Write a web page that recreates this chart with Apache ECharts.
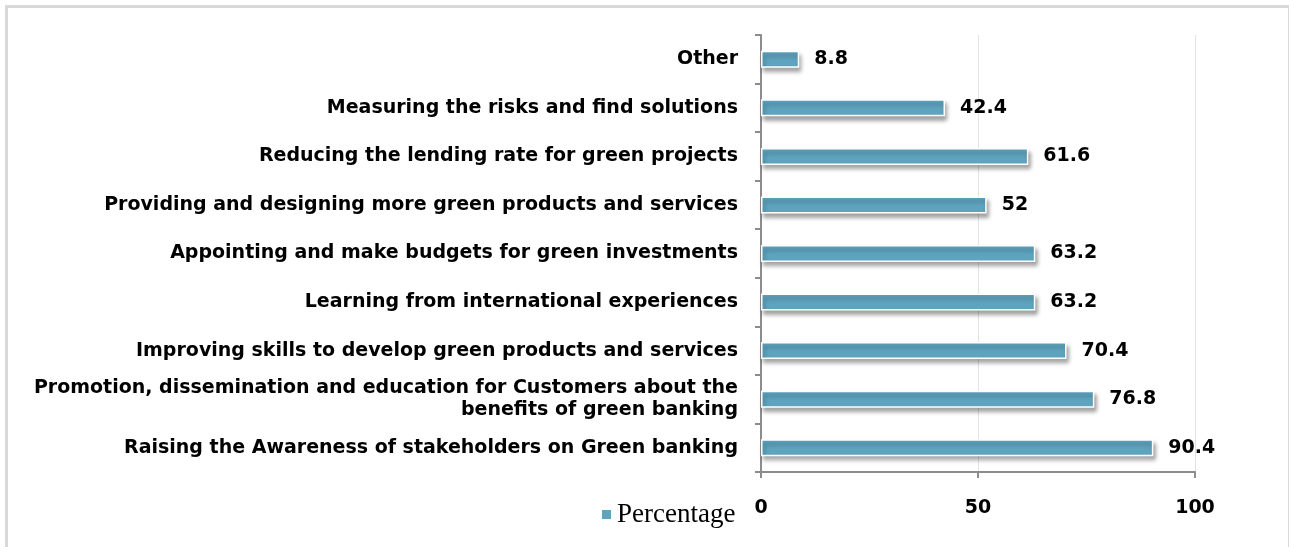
<!DOCTYPE html>
<html>
<head>
<meta charset="utf-8">
<script src="https://cdn.jsdelivr.net/npm/echarts@6/dist/echarts.min.js"></script>
<style>html,body{margin:0;padding:0;background:#fff}#c{width:1289px;height:547px}</style>
</head>
<body>
<div id="c"></div>
<script>
const categories = [
  'Raising the Awareness of stakeholders on Green banking',
  'Promotion, dissemination and education for Customers about the\nbenefits of green banking',
  'Improving skills to develop green products and services',
  'Learning from international experiences',
  'Appointing and make budgets for green investments',
  'Providing and designing more green products and services',
  'Reducing the lending rate for green projects',
  'Measuring the risks and find solutions',
  'Other'
];
const percentage = [90.4, 76.8, 70.4, 63.2, 63.2, 52, 61.6, 42.4, 8.8];
const xTicks = [0, 50, 100];

const chart = echarts.init(document.getElementById('c'), null, {renderer: 'canvas'});
chart.setOption({
  animation: false,
  backgroundColor: '#fff',
  graphic: [{
    type: 'rect', left: 4, top: 4,
    shape: {width: 1283, height: 600},
    style: {fill: 'none', stroke: '#d9d9d9', lineWidth: 3}
  }],
  legend: {
    left: 595, top: 496,
    itemWidth: 11, itemHeight: 11, itemGap: 8,
    icon: 'rect',
    textStyle: {fontFamily: 'Liberation Serif', fontSize: 27, color: '#000'},
    data: ['Percentage']
  },
  grid: {left: 761, right: 94, top: 35, bottom: 75, containLabel: false},
  xAxis: {
    type: 'value', min: 0, max: 100, interval: 50,
    axisLine: {show: true, lineStyle: {color: '#8c8c8c', width: 2}},
    axisTick: {show: true, length: 6, lineStyle: {color: '#8c8c8c', width: 2}},
    splitLine: {show: true, lineStyle: {color: '#e3e3e3', width: 1}},
    axisLabel: {
      margin: 27, color: '#000', fontFamily: 'DejaVu Sans', fontWeight: 'bold', fontSize: 19,
      formatter: v => xTicks.includes(v) ? String(v) : ''
    }
  },
  yAxis: {
    type: 'category', data: categories,
    axisLine: {show: true, lineStyle: {color: '#8c8c8c', width: 2}},
    axisTick: {show: true, length: 6, lineStyle: {color: '#8c8c8c', width: 2}},
    axisLabel: {
      margin: 23, color: '#000', fontFamily: 'DejaVu Sans', fontWeight: 'bold', fontSize: 19,
      lineHeight: 22, align: 'right'
    }
  },
  series: [{
    name: 'Percentage', type: 'bar', data: percentage, barWidth: 17,
    itemStyle: {
      color: '#5fa4bf', borderColor: '#fff', borderWidth: 1.5,
      shadowColor: 'rgba(0,0,0,0.35)', shadowBlur: 4, shadowOffsetX: 2, shadowOffsetY: 4
    },
    label: {
      show: true, position: 'right', distance: 15, color: '#000',
      fontFamily: 'DejaVu Sans', fontWeight: 'bold', fontSize: 19
    }
  }]
});
</script>
</body>
</html>
